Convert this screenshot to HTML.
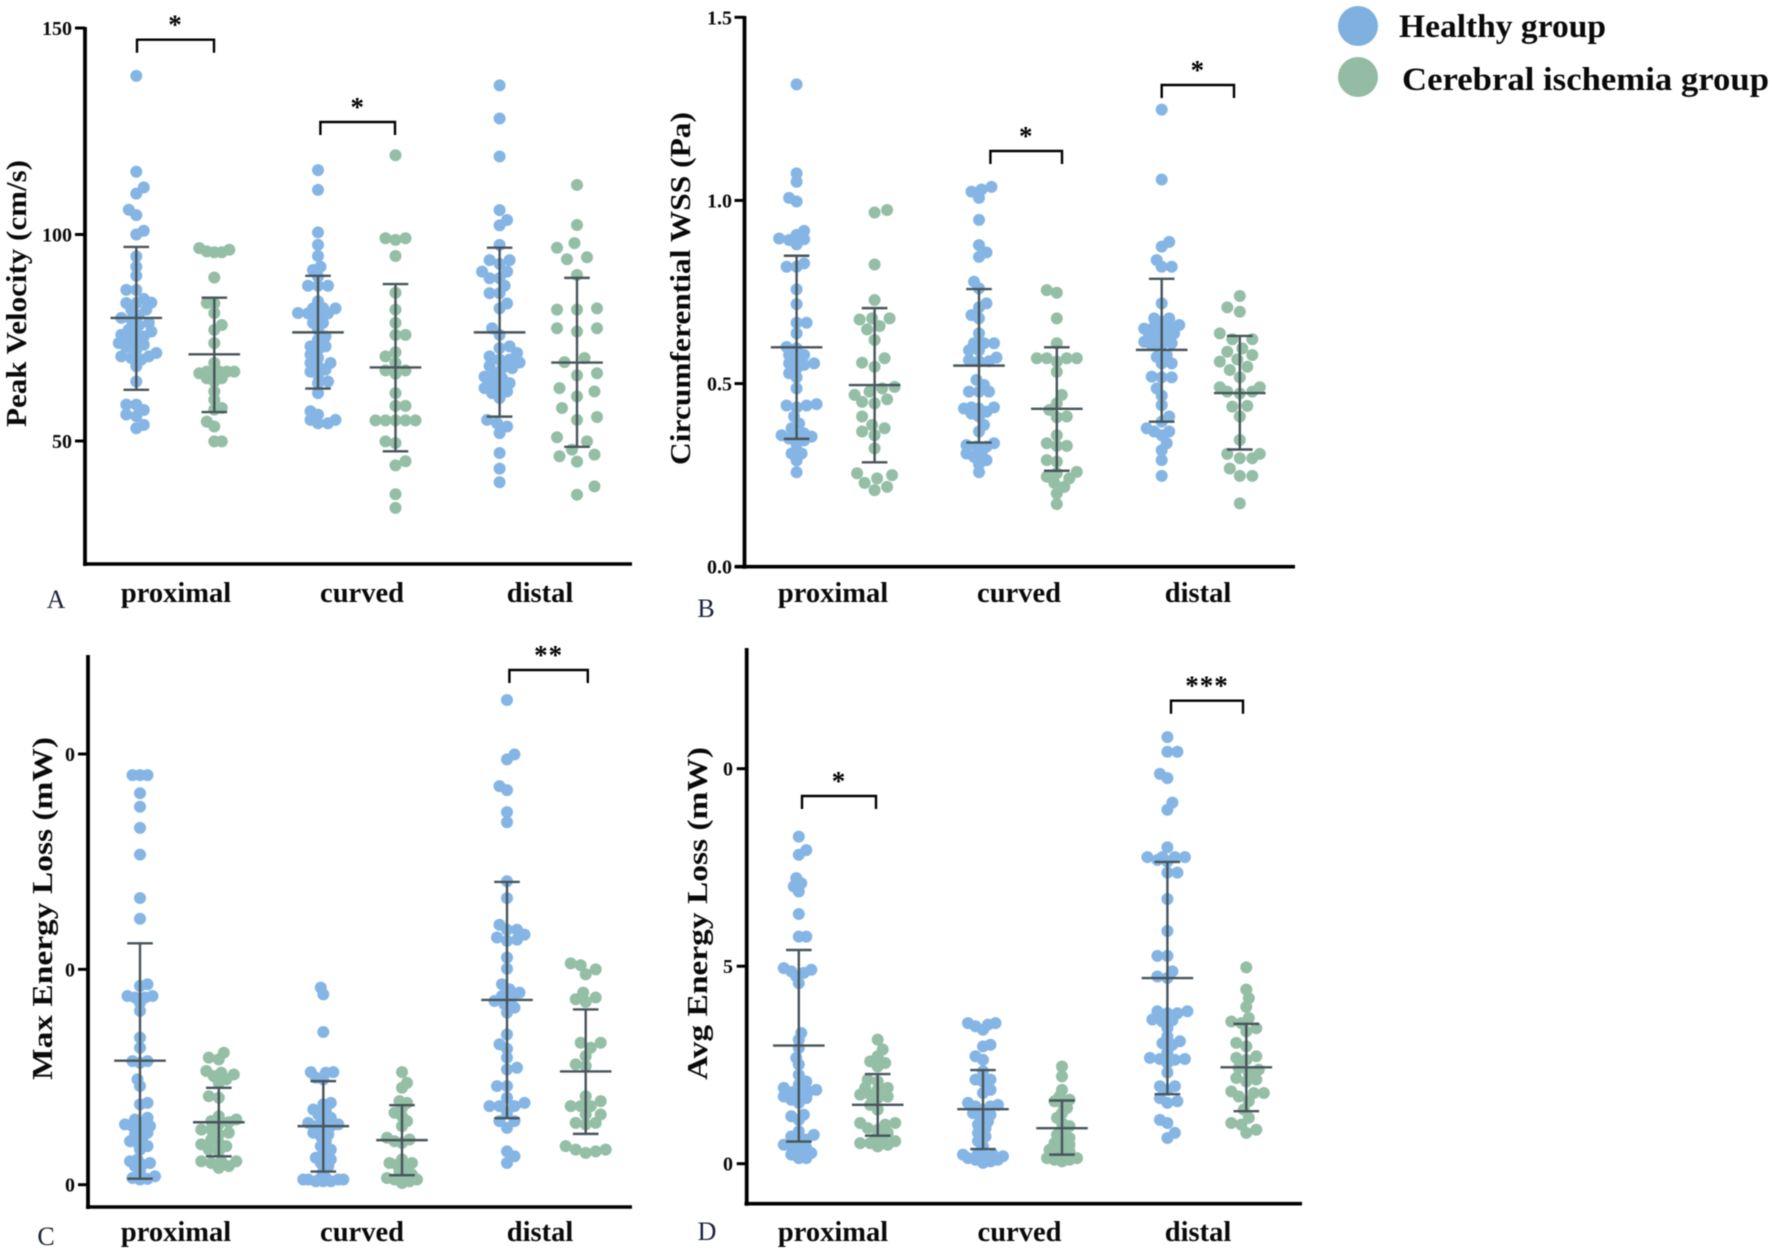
<!DOCTYPE html>
<html lang="en">
<head>
<meta charset="utf-8">
<title>Hemodynamic parameters by segment and group</title>
<style>
  html, body { margin: 0; padding: 0; background: #fff; }
  svg { display: block; font-family: "Liberation Serif", serif; filter: blur(0.4px); }
  .ttl { font-weight: bold; font-size: 28px; fill: #0a0a0a; }
  .cat { font-weight: bold; font-size: 28.5px; fill: #0a0a0a; text-anchor: middle; }
  .let { font-size: 26px; fill: #1a2338; text-anchor: middle; }
  .leg { font-weight: bold; font-size: 33px; fill: #0a0a0a; }
</style>
</head>
<body>
<svg id="figure" width="1772" height="1253" viewBox="0 0 1772 1253" xmlns="http://www.w3.org/2000/svg">
  <rect width="1772" height="1253" fill="#ffffff"/>

  <text class="ttl" transform="translate(26,427) rotate(-90)" textLength="267" lengthAdjust="spacingAndGlyphs">Peak Velocity (cm/s)</text>
  <text class="ttl" transform="translate(690,465) rotate(-90)" textLength="353" lengthAdjust="spacingAndGlyphs">Circumferential WSS (Pa)</text>
  <text class="ttl" transform="translate(52,1080) rotate(-90)" textLength="343" lengthAdjust="spacingAndGlyphs">Max Energy Loss (mW)</text>
  <text class="ttl" transform="translate(707,1080) rotate(-90)" textLength="333" lengthAdjust="spacingAndGlyphs">Avg Energy Loss (mW)</text>

  <text class="let" x="56" y="608">A</text>
  <text class="let" x="706" y="617">B</text>
  <text class="let" x="46" y="1245">C</text>
  <text class="let" x="707" y="1240">D</text>

  <g>
    <circle cx="1358" cy="26" r="20" fill="#80B0DF"/>
    <text class="leg" x="1399" y="37" textLength="207" lengthAdjust="spacingAndGlyphs">Healthy group</text>
    <circle cx="1358" cy="77" r="20" fill="#94BBA4"/>
    <text class="leg" x="1402" y="90" textLength="367" lengthAdjust="spacingAndGlyphs">Cerebral ischemia group</text>
  </g>
</svg>

<script>
const categories = ['proximal', 'curved', 'distal'];
const groupNames = ['healthy', 'ischemia'];

/* ---------- Panel A: Peak Velocity (cm/s) ---------- */
const aTicks = [50, 100, 150];
const aTickLabels = ['50', '100', '150'];
const aMeans = [79.8, 71, 76.3, 67.8, 76.3, 69];
const aUpper = [97, 84.7, 90, 88, 96.8, 89.5];
const aLower = [62.4, 57, 62.7, 47.5, 55.9, 48.6];
const aProximalHealthy = [138.4,115.2,111.4,109.9,106,104.7,100.9,100,94.7,92.2,90,86.6,86.6,84.4,83.5,83.4,83.4,81.8,81.8,80.5,79.8,79.4,78.6,78,77,76.5,76.1,75.7,75.3,74.9,74.1,73.7,73.3,72.7,72.1,71.3,70.5,70.5,70.1,69.7,68.1,64.4,58.8,58.8,57.5,56.4,56,53.9,53.1];
const aProximalIschemia = [96.7,96.3,95.9,95.7,95.7,89.6,83.3,83.4,81,78.1,76.9,73.7,68.9,66.8,66.8,66.8,66.8,66.4,66.4,65.2,65.2,64.4,62,60,58,57.6,54.7,53.5,49.9,49.9];
const aCurvedHealthy = [115.6,110.8,100.5,97.5,94.8,92.2,91.4,89.8,87.6,87.6,87.6,83.8,82.2,82.1,82.1,81,80.9,80.9,80.6,78.6,78.6,76.9,75.3,74.5,72.9,72.9,72.1,70.9,70.1,68.9,68.9,68.1,67.3,66.8,66,64.4,64,61.6,57.2,56.4,55.1,55.1,54.3,54.3];
const aCurvedIschemia = [119.2,99.1,99.1,98.7,94.8,85.9,81.8,78.6,75.7,75.7,71.5,70.5,68.9,67.1,67.1,66.3,61.6,58.5,58.5,55,55,55,55,55,49.9,49.5,45.1,44.1,37.1,33.8];
const aDistalHealthy = [136.1,128.1,118.9,105.9,103.5,102.2,97.5,93.8,93.8,92.9,91,91,89.4,89.4,87.6,85.8,85.8,83.3,82.1,77.3,75.7,72.9,72.5,71.3,70.5,69.7,69.7,69,68.2,67.6,67.6,66.4,65.6,65.2,64.4,64,63.2,62.8,62,61.6,60.4,55.1,54.3,53.5,51.9,47.1,43.3,40];
const aDistalIschemia = [112,102.3,97.9,96.8,94.5,94,90.2,82.1,81.8,81.8,77.3,77.3,76.5,70.1,69.1,66.4,65.9,62.8,62,60.8,58,55.8,55.1,50.9,49.9,47.9,46.7,46.3,45,39,37];

/* ---------- Panel B: Circumferential WSS (Pa) ---------- */
const bTicks = [0, 0.5, 1, 1.5];
const bTickLabels = ['0.0', '0.5', '1.0', '1.5'];
const bMeans = [0.599, 0.496, 0.549, 0.431, 0.592, 0.474];
const bUpper = [0.849, 0.706, 0.758, 0.599, 0.786, 0.63];
const bLower = [0.349, 0.285, 0.339, 0.262, 0.396, 0.32];
const bProximalHealthy = [1.317,1.074,1.051,1.007,0.997,0.917,0.906,0.896,0.894,0.892,0.88,0.828,0.819,0.819,0.757,0.717,0.666,0.666,0.637,0.6,0.596,0.578,0.578,0.569,0.555,0.555,0.551,0.541,0.528,0.517,0.487,0.444,0.44,0.44,0.435,0.41,0.391,0.378,0.359,0.359,0.364,0.355,0.35,0.345,0.335,0.309,0.309,0.29,0.258];
const bProximalIschemia = [0.974,0.967,0.825,0.728,0.678,0.678,0.675,0.657,0.648,0.619,0.569,0.557,0.546,0.491,0.487,0.478,0.469,0.457,0.45,0.446,0.41,0.387,0.378,0.369,0.359,0.323,0.255,0.25,0.241,0.229,0.218,0.209];
const bCurvedHealthy = [1.037,1.03,1.024,1.007,0.947,0.878,0.858,0.846,0.778,0.76,0.719,0.708,0.687,0.678,0.637,0.61,0.61,0.61,0.591,0.591,0.571,0.564,0.561,0.561,0.51,0.496,0.478,0.478,0.478,0.435,0.435,0.432,0.432,0.423,0.418,0.41,0.387,0.369,0.337,0.332,0.328,0.328,0.309,0.309,0.3,0.291,0.28,0.258];
const bCurvedIschemia = [0.755,0.748,0.678,0.61,0.569,0.569,0.569,0.569,0.56,0.532,0.469,0.446,0.428,0.41,0.408,0.359,0.337,0.33,0.33,0.291,0.287,0.259,0.255,0.246,0.241,0.229,0.218,0.2,0.171];
const bDistalHealthy = [1.248,1.057,0.887,0.874,0.837,0.819,0.819,0.719,0.678,0.678,0.669,0.66,0.655,0.655,0.65,0.646,0.637,0.632,0.628,0.623,0.614,0.61,0.605,0.605,0.578,0.573,0.555,0.555,0.519,0.517,0.517,0.487,0.467,0.441,0.41,0.396,0.378,0.369,0.369,0.359,0.337,0.318,0.291,0.248];
const bDistalIschemia = [0.739,0.708,0.696,0.637,0.621,0.621,0.596,0.587,0.578,0.566,0.56,0.546,0.537,0.517,0.49,0.49,0.478,0.478,0.473,0.437,0.439,0.41,0.346,0.308,0.308,0.296,0.296,0.268,0.248,0.248,0.173];

/* ---------- Panel C: Max Energy Loss (mW) ---------- */
const cTicks = [0, 10, 20];
const cTickLabels = ['0', '0', '0'];
const cMeans = [5.76, 2.9, 2.72, 2.07, 8.58, 5.26];
const cUpper = [11.21, 4.5, 4.81, 3.69, 14.06, 8.14];
const cLower = [0.28, 1.32, 0.61, 0.44, 3.09, 2.36];
const cProximalHealthy = [19.02,19.02,19.02,18.18,17.55,16.57,15.33,13.31,12.35,9.31,9.23,8.76,8.76,8.69,8.69,8.45,8.07,6.83,6.36,5.74,5.74,5.66,4.89,4.58,3.8,3.73,3.11,3.03,2.87,2.8,2.72,2.72,2.56,2.41,2.33,2.18,2.02,1.94,1.79,1.63,1.17,1.09,1.01,0.93,0.86,0.62,0.39,0.31,0.27,0.24];
const cProximalIschemia = [6.13,5.9,5.82,5.28,5.2,5.12,5.04,4.89,4.73,4.11,4.04,3.18,3.03,2.95,2.9,2.8,2.56,2.56,2.41,2.33,2.1,1.94,1.87,1.79,1.63,1.55,1.09,1.09,1.09,1.01,0.86,0.78];
const cCurvedHealthy = [9.15,8.84,7.09,5.23,5.23,5.2,4.97,4.89,3.8,3.73,3.49,3.42,3.26,3.11,3.03,2.87,2.8,2.72,2.72,2.56,2.41,2.33,2.25,2.02,1.79,1.63,1.48,1.25,1.17,1.01,0.86,0.62,0.31,0.31,0.24,0.24,0.24,0.24,0.16,0.16,0.16];
const cCurvedIschemia = [5.23,4.73,4.5,3.88,3.8,3.57,3.34,3.18,2.95,2.72,2.18,2.1,2.02,1.94,1.17,1.01,1.01,0.93,0.78,0.62,0.47,0.39,0.31,0.24,0.24,0.16,0.08];
const cDistalHealthy = [22.51,19.98,19.75,18.51,18.32,17.3,16.83,14.09,13.31,12.07,11.84,11.84,11.61,11.48,11.38,11.32,10.55,10.03,9.31,9.07,8.92,8.76,8.69,8.53,8.38,8.22,7.99,6.98,6.52,6.31,5.9,5.43,5.35,4.58,4.58,4.04,3.8,3.65,3.65,3.65,3.34,2.95,2.95,2.64,1.55,1.32,1.01];
const cDistalIschemia = [10.28,10.19,10,9.77,8.92,8.69,8.61,8.49,6.59,6.59,6.36,5.97,5.59,5.51,4.11,3.88,3.65,3.65,3.65,3.26,3.26,2.87,2.87,2.8,1.79,1.63,1.63,1.55,1.48];

/* ---------- Panel D: Avg Energy Loss (mW) ---------- */
const dTicks = [0, 5, 10];
const dTickLabels = ['0', '5', '0'];
const dMeans = [2.99, 1.49, 1.38, 0.9, 4.7, 2.44];
const dUpper = [5.41, 2.27, 2.37, 1.6, 7.64, 3.54];
const dLower = [0.56, 0.71, 0.37, 0.23, 1.76, 1.33];
const dProximalHealthy = [8.28,7.94,7.82,7.23,7.1,7.02,6.89,6.32,5.75,5.75,4.95,4.91,4.87,4.83,4.74,4.57,3.31,3.14,2.93,2.68,2.51,2.25,2.08,2,1.92,1.87,1.83,1.81,1.79,1.7,1.66,1.62,1.54,1.24,1.2,1.11,0.82,0.73,0.69,0.61,0.57,0.48,0.44,0.4,0.35,0.27,0.23,0.14,0.14];
const dProximalIschemia = [3.14,2.89,2.72,2.59,2.55,2.46,2.13,2.08,1.92,1.92,1.87,1.75,1.75,1.7,1.66,1.49,1.37,1.03,1.03,0.99,0.9,0.86,0.78,0.65,0.61,0.57,0.52,0.52,0.48,0.44];
const dCurvedHealthy = [3.56,3.56,3.52,3.48,3.39,3.01,2.97,2.72,2.63,2.34,2.13,2.13,2.08,1.87,1.79,1.54,1.49,1.45,1.45,1.37,1.28,1.24,1.16,1.07,0.99,0.9,0.78,0.69,0.57,0.44,0.27,0.23,0.23,0.19,0.19,0.14,0.1,0.1,0.06,0.02];
const dCurvedIschemia = [2.46,2.21,1.87,1.7,1.62,1.58,1.54,1.41,1.28,1.16,1.03,0.95,0.86,0.73,0.65,0.61,0.52,0.48,0.44,0.35,0.31,0.27,0.19,0.14,0.14,0.1,0.1,0.06];
const dDistalHealthy = [10.8,10.43,10.43,9.87,9.76,9.14,8.96,8.01,7.76,7.76,7.76,7.76,7.69,7.65,7.37,7.37,6.7,5.89,5.26,5.26,4.87,4.74,4.7,3.86,3.86,3.81,3.81,3.65,3.63,3.6,3.43,3.22,3.1,3.05,3.01,2.82,2.68,2.65,2.65,2.63,2.55,2.31,1.96,1.96,1.87,1.66,1.58,1.54,1.11,1.03,0.78,0.65];
const dDistalIschemia = [4.97,4.41,4.19,3.97,3.69,3.6,3.56,3.43,3.35,3.06,2.97,2.72,2.68,2.63,2.42,2.38,2.3,2.17,2.13,2.08,1.83,1.79,1.79,1.7,1.58,1.37,1.16,1.03,0.99,0.86,0.78];

/* ---------- Drawing ---------- */
const NS = 'http://www.w3.org/2000/svg';
const figure = document.getElementById('figure');
const DOT_R = 6;
const COLORS = { healthy: '#85B5E4', ischemia: '#94BEA6', bar: '#47555a', axis: '#000000' };

function make(tag, props, parent) {
  const el = document.createElementNS(NS, tag);
  Object.keys(props).forEach(function (k) { el.setAttribute(k, props[k]); });
  parent.appendChild(el);
  return el;
}

/* Lays points out Prism-style: each value keeps its height, and slides sideways until it clears earlier points. */
function swarmOffsets(pixelYs, minDist) {
  const placed = [];
  const maxOffset = 21;
  const step = 2.5;
  let flip = 1;
  return pixelYs.map(function (py) {
    let chosen = null;
    let best = -1;
    let bestOff = 0;
    for (let k = 0; k * step <= maxOffset && chosen === null; k++) {
      const signs = k === 0 ? [1] : [flip, -flip];
      for (let s = 0; s < signs.length; s++) {
        const off = signs[s] * k * step;
        let clearance = Infinity;
        placed.forEach(function (p) {
          const d = Math.hypot(p.off - off, p.py - py);
          if (d < clearance) clearance = d;
        });
        if (clearance >= minDist) { chosen = off; break; }
        if (clearance > best) { best = clearance; bestOff = off; }
      }
    }
    if (chosen === null) chosen = bestOff;
    if (chosen !== 0) flip = -flip;
    placed.push({ off: chosen, py: py });
    return chosen;
  });
}

function drawPanel(cfg) {
  const g = make('g', {}, figure);
  
  

  const yScale = function (v) {
    return cfg.y0 + (v - cfg.v0) * (cfg.y1 - cfg.y0) / (cfg.v1 - cfg.v0);
  };

  /* dots */
  cfg.series.forEach(function (values, i) {
    const group = groupNames[i % 2];
    const category = categories[Math.floor(i / 2)];
    const cx = cfg.centers[i];
    const sorted = values.slice().sort(function (a, b) { return a - b; });
    const offsets = swarmOffsets(sorted.map(yScale), cfg.spacing[i]);
    const sg = make('g', {}, g);
    
    
    sorted.forEach(function (v, j) {
      const c = make('circle', { cx: cx + offsets[j], cy: yScale(v), r: DOT_R, fill: COLORS[group] }, sg);
      
      
    });
  });

  /* mean and SD bars */
  cfg.means.forEach(function (m, i) {
    const group = groupNames[i % 2];
    const category = categories[Math.floor(i / 2)];
    const cx = cfg.centers[i];
    const yU = yScale(cfg.upper[i]);
    const yL = yScale(cfg.lower[i]);
    const yM = yScale(m);
    const eg = make('g', { stroke: COLORS.bar, 'stroke-width': 2.4, fill: 'none' }, g);
    
    
    make('line', { x1: cx, x2: cx, y1: yU, y2: yL }, eg);
    make('line', { x1: cx - 12.8, x2: cx + 12.8, y1: yU, y2: yU }, eg);
    make('line', { x1: cx - 12.8, x2: cx + 12.8, y1: yL, y2: yL }, eg);
    make('line', { x1: cx - 25.8, x2: cx + 25.8, y1: yM, y2: yM }, eg);
  });

  /* axes */
  const yAxis = make('line', { x1: cfg.axisX, x2: cfg.axisX, y1: cfg.axisTop, y2: cfg.axisY + 2, stroke: COLORS.axis, 'stroke-width': 3.8 }, g);
  
  
  const xAxis = make('line', { x1: cfg.xStart, x2: cfg.xEnd, y1: cfg.axisY, y2: cfg.axisY, stroke: COLORS.axis, 'stroke-width': 3.6 }, g);
  
  

  cfg.ticks.forEach(function (t, i) {
    const py = yScale(t);
    const tick = make('line', { x1: cfg.axisX - 10, x2: cfg.axisX, y1: py, y2: py, stroke: COLORS.axis, 'stroke-width': 3 }, g);
    
    
    const label = make('text', { x: cfg.labelX, y: py + 7, 'font-size': 20, 'font-weight': 'bold', 'text-anchor': 'end', fill: '#0a0a0a' }, g);
    
    
    label.textContent = cfg.tickLabels[i];
  });

  categories.forEach(function (name, i) {
    const label = make('text', { class: 'cat', x: cfg.catX[i], y: cfg.catY }, g);
    
    
    label.textContent = name;
  });

  /* significance brackets */
  cfg.brackets.forEach(function (b) {
    const bg = make('g', {}, g);
    
    
    make('path', { d: 'M' + b.x1 + ' ' + (b.y + 13) + 'V' + b.y + 'H' + b.x2 + 'V' + (b.y + 13), fill: 'none', stroke: '#000', 'stroke-width': 2.4 }, bg);
    const star = make('text', { x: (b.x1 + b.x2) / 2, y: b.y - 6, 'font-size': 27, 'font-weight': 'bold', 'text-anchor': 'middle', fill: '#000', 'letter-spacing': '1px' }, bg);
    
    
    star.textContent = b.stars;
  });
}

drawPanel({
  id: 'a', v0: 50, y0: 441, v1: 150, y1: 28,
  axisX: 85, axisTop: 27, axisY: 564, xStart: 83, xEnd: 632, labelX: 72,
  centers: [136.3, 214.3, 318, 395.5, 499.6, 577],
  spacing: [8, 7.5, 8, 10, 8.5, 18],
  series: [aProximalHealthy, aProximalIschemia, aCurvedHealthy, aCurvedIschemia, aDistalHealthy, aDistalIschemia],
  means: aMeans, upper: aUpper, lower: aLower,
  ticks: aTicks, tickLabels: aTickLabels,
  catX: [176, 362, 540], catY: 602,
  brackets: [{ x1: 137, x2: 214, y: 39.7, stars: '*' }, { x1: 320.4, x2: 395, y: 122, stars: '*' }]
});
drawPanel({
  id: 'b', v0: 0, y0: 566.7, v1: 1.5, y1: 17.3,
  axisX: 744.5, axisTop: 16, axisY: 566.7, xStart: 735, xEnd: 1295, labelX: 732,
  centers: [796.6, 874.6, 979, 1056.8, 1161.7, 1239.8],
  spacing: [8, 12, 8, 9.5, 8, 12],
  series: [bProximalHealthy, bProximalIschemia, bCurvedHealthy, bCurvedIschemia, bDistalHealthy, bDistalIschemia],
  means: bMeans, upper: bUpper, lower: bLower,
  ticks: bTicks, tickLabels: bTickLabels,
  catX: [833, 1019, 1198], catY: 602,
  brackets: [{ x1: 990.4, x2: 1062, y: 151, stars: '*' }, { x1: 1161.7, x2: 1234, y: 85, stars: '*' }]
});
drawPanel({
  id: 'c', v0: 0, y0: 1184.7, v1: 20, y1: 754,
  axisX: 88, axisTop: 655, axisY: 1207, xStart: 86, xEnd: 632, labelX: 75,
  centers: [140, 218.8, 323.3, 402, 507, 585.7],
  spacing: [7, 8, 7, 7, 8.5, 9.5],
  series: [cProximalHealthy, cProximalIschemia, cCurvedHealthy, cCurvedIschemia, cDistalHealthy, cDistalIschemia],
  means: cMeans, upper: cUpper, lower: cLower,
  ticks: cTicks, tickLabels: cTickLabels,
  catX: [176, 362, 540], catY: 1241,
  brackets: [{ x1: 509.4, x2: 587.8, y: 670, stars: '**' }]
});
drawPanel({
  id: 'd', v0: 0, y0: 1163.7, v1: 10, y1: 768.7,
  axisX: 746.7, axisTop: 648, axisY: 1203.7, xStart: 744.5, xEnd: 1302, labelX: 733,
  centers: [798.8, 877.7, 983, 1062, 1167.4, 1246.3],
  spacing: [7, 8, 7, 6.5, 8, 9],
  series: [dProximalHealthy, dProximalIschemia, dCurvedHealthy, dCurvedIschemia, dDistalHealthy, dDistalIschemia],
  means: dMeans, upper: dUpper, lower: dLower,
  ticks: dTicks, tickLabels: dTickLabels,
  catX: [833, 1019.5, 1198], catY: 1241,
  brackets: [{ x1: 802, x2: 876, y: 796, stars: '*' }, { x1: 1171, x2: 1243, y: 700.7, stars: '***' }]
});
</script>
</body>
</html>
